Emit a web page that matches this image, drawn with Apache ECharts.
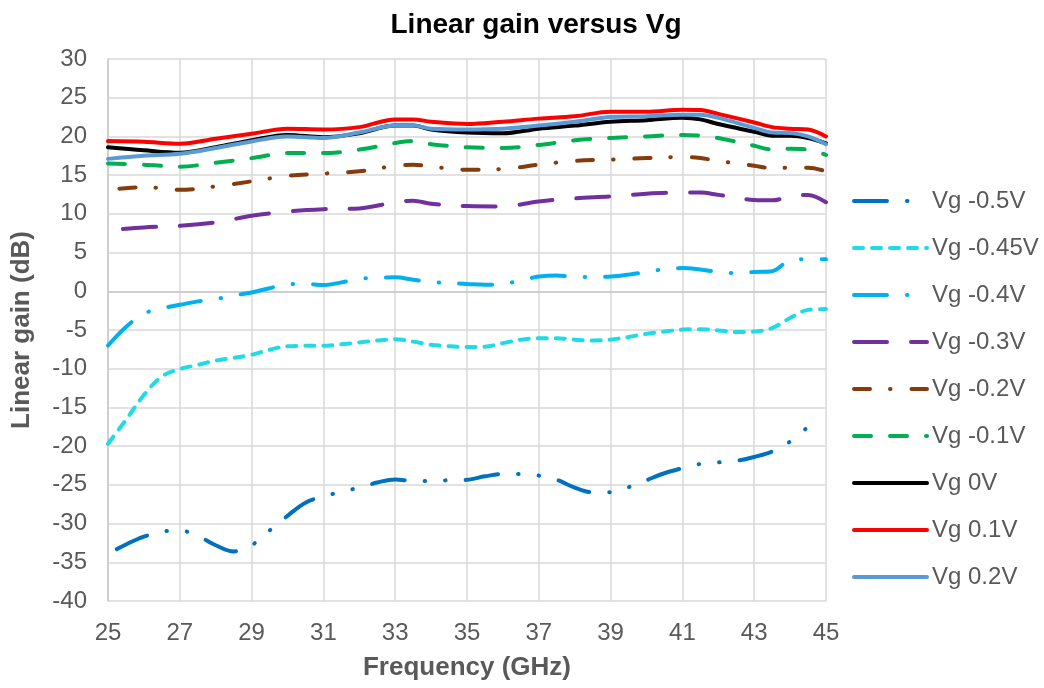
<!DOCTYPE html>
<html>
<head>
<meta charset="utf-8">
<script src="https://cdn.jsdelivr.net/npm/echarts@6/dist/echarts.min.js"></script>
<style>
  html, body { margin: 0; padding: 0; background: #ffffff; }
  #chart { width: 1044px; height: 688px; }
</style>
</head>
<body>
<div id="chart"></div>
<script>
// Frequency grids (GHz)
const freqTop = [25, 26, 27, 28, 29, 30, 31, 32, 33, 33.5, 34, 35, 36, 37, 38, 39, 40, 41, 41.5, 42, 43, 43.5, 44, 44.5, 45];
const freqHalf = [25, 25.5, 26, 26.5, 27, 27.5, 28, 28.5, 29, 29.5, 30, 30.5, 31, 31.5, 32, 32.5, 33, 33.5, 34, 34.5,
                  35, 35.5, 36, 36.5, 37, 37.5, 38, 38.5, 39, 39.5, 40, 40.5, 41, 41.5, 42, 42.5, 43, 43.5, 44, 44.5, 45];

// Linear gain (dB) for each gate voltage
const gainM050 = [-33.9, -32.7, -31.7, -31.05, -30.9, -31.6, -32.8, -33.6, -32.8, -30.9, -29.0, -27.3, -26.5, -25.9, -25.35, -24.7, -24.3, -24.5, -24.5, -24.4,
                  -24.35, -23.9, -23.6, -23.6, -23.8, -24.35, -25.35, -25.95, -25.95, -25.3, -24.4, -23.5, -22.85, -22.3, -22.1, -21.9, -21.4, -20.7, -19.4, -17.5];
const gainM045 = [-19.7, -16.6, -13.4, -11.0, -10.05, -9.5, -8.95, -8.6, -8.2, -7.55, -7.1, -7.05, -7.05, -6.85, -6.6, -6.35, -6.2, -6.5, -6.9, -7.1,
                  -7.2, -7.15, -6.7, -6.25, -6.05, -6.05, -6.25, -6.35, -6.25, -5.9, -5.5, -5.2, -4.95, -4.9, -5.05, -5.25, -5.2, -4.75, -3.45, -2.4, -2.3];
const gainM040 = [-7.0, -4.6, -2.9, -2.2, -1.75, -1.3, -1.0, -0.55, -0.15, 0.4, 0.9, 0.95, 0.8, 1.15, 1.6, 1.75, 1.8, 1.5, 1.2, 1.05,
                  0.95, 0.85, 0.95, 1.4, 1.9, 2.05, 1.85, 1.85, 1.9, 2.15, 2.5, 2.85, 3.0, 2.8, 2.5, 2.35, 2.5, 2.6, 4.0, 4.15, 4.15];
const gainM030 = [7.9, 8.25, 8.45, 8.9, 9.75, 10.3, 10.6, 10.7, 11.5, 11.7, 11.3, 11.0, 10.95, 11.6, 12.0, 12.25, 12.6, 12.75, 12.75, 12.45, 11.8, 11.75, 12.25, 12.45, 11.5];
const gainM020 = [13.1, 13.45, 13.1, 13.55, 14.2, 14.9, 15.2, 15.5, 16.2, 16.35, 16.1, 15.7, 15.8, 16.35, 16.85, 17.0, 17.2, 17.35, 17.2, 16.85, 16.2, 15.9, 15.95, 15.95, 15.5];
const gainM010 = [16.5, 16.35, 16.1, 16.6, 17.2, 17.85, 17.85, 18.3, 19.15, 19.4, 19.0, 18.6, 18.5, 18.9, 19.5, 19.8, 20.0, 20.2, 20.1, 19.8, 18.8, 18.3, 18.4, 18.3, 17.6];
const gainP000 = [18.6, 18.2, 17.9, 18.6, 19.5, 20.2, 19.9, 20.4, 21.4, 21.4, 20.9, 20.5, 20.4, 21.0, 21.4, 21.9, 22.1, 22.4, 22.2, 21.6, 20.6, 20.1, 20.1, 19.8, 19.1];
const gainP010 = [19.4, 19.3, 19.06, 19.7, 20.35, 21.0, 20.9, 21.2, 22.2, 22.2, 21.9, 21.6, 21.9, 22.3, 22.6, 23.2, 23.2, 23.45, 23.4, 22.9, 21.8, 21.2, 21.0, 20.9, 20.0];
const gainP020 = [17.1, 17.5, 17.75, 18.5, 19.35, 20.0, 19.8, 20.5, 21.4, 21.4, 21.0, 20.9, 21.0, 21.4, 21.9, 22.5, 22.6, 22.8, 22.8, 22.4, 21.1, 20.5, 20.45, 20.0, 19.0];

// Series names and axis ticks
const seriesNames = ['Vg -0.5V', 'Vg -0.45V', 'Vg -0.4V', 'Vg -0.3V', 'Vg -0.2V', 'Vg -0.1V', 'Vg 0V', 'Vg 0.1V', 'Vg 0.2V'];
const xTicks = [25, 27, 29, 31, 33, 35, 37, 39, 41, 43, 45];
const yTicks = [-40, -35, -30, -25, -20, -15, -10, -5, 0, 5, 10, 15, 20, 25, 30];

const FONT = '"Liberation Sans", Arial, Helvetica, sans-serif';
const GREY = '#595959';

function pairs(xs, ys) {
  return ys.map((v, i) => [xs[i], v]);
}

// Stroke styles per curve: colour, dash pattern, dash phase
const styles = [
  { color: '#0070c0', type: [33, 20, 0.5, 20, 0.5, 20], offset: 84 },
  { color: '#1fdbe6', type: [9, 9], offset: 0 },
  { color: '#00b0f0', type: [33, 20, 0.5, 20], offset: 0 },
  { color: '#7030a0', type: [33, 24], offset: 42 },
  { color: '#843c0c', type: [16, 20, 0.5, 21], offset: 46 },
  { color: '#00b050', type: [17, 19], offset: 0 },
  { color: '#000000', type: 'solid', offset: 0 },
  { color: '#ff0000', type: 'solid', offset: 0 },
  { color: '#5b9bd5', type: 'solid', offset: 0 }
];

const dataSets = [
  pairs(freqHalf, gainM050),
  pairs(freqHalf, gainM045),
  pairs(freqHalf, gainM040),
  pairs(freqTop, gainM030),
  pairs(freqTop, gainM020),
  pairs(freqTop, gainM010),
  pairs(freqTop, gainP000),
  pairs(freqTop, gainP010),
  pairs(freqTop, gainP020)
];

const series = seriesNames.map((name, i) => ({
  name: name,
  type: 'line',
  data: dataSets[i],
  smooth: 0.35,
  symbol: 'none',
  animation: false,
  color: styles[i].color,
  lineStyle: {
    color: styles[i].color,
    width: 4,
    type: styles[i].type,
    dashOffset: styles[i].offset,
    cap: 'round',
    join: 'round'
  }
}));

// Legend swatches start their dash pattern at the left edge
const legendItems = seriesNames.map(name => ({
  name: name,
  lineStyle: { dashOffset: 0 }
}));

const chart = echarts.init(document.getElementById('chart'), null, { renderer: 'canvas' });
chart.setOption({
  backgroundColor: '#ffffff',
  animation: false,
  title: {
    text: 'Linear gain versus Vg',
    left: 531,
    textAlign: 'center',
    top: 6,
    textStyle: { fontFamily: FONT, fontSize: 28, fontWeight: 'bold', color: '#000000' }
  },
  grid: { left: 108, right: 218, top: 59, bottom: 87, containLabel: false },
  legend: {
    orient: 'vertical',
    left: 852,
    top: 189,
    padding: 0,
    itemWidth: 73,
    itemHeight: 14,
    itemGap: 23,
    data: legendItems,
    textStyle: { fontFamily: FONT, fontSize: 24, color: GREY },
    lineStyle: { width: 4, cap: 'round', dashOffset: 0 },
    itemStyle: { color: 'transparent', borderColor: 'transparent', borderWidth: 0, opacity: 0 }
  },
  xAxis: {
    type: 'value',
    min: 25,
    max: 45,
    interval: 2,
    name: 'Frequency (GHz)',
    nameLocation: 'middle',
    nameGap: 54,
    nameTextStyle: { fontFamily: FONT, fontSize: 26, fontWeight: 'bold', color: GREY },
    axisLine: { show: true, lineStyle: { color: '#c8c8c8', width: 1.5 } },
    axisTick: { show: false },
    axisLabel: {
      fontFamily: FONT, fontSize: 24, color: GREY, margin: 20,
      formatter: v => (xTicks.indexOf(v) >= 0 ? String(v) : '')
    },
    splitLine: { show: true, lineStyle: { color: '#d9d9d9', width: 1.5 } }
  },
  yAxis: {
    type: 'value',
    min: -40,
    max: 30,
    interval: 5,
    name: 'Linear gain (dB)',
    nameLocation: 'middle',
    nameGap: 73,
    nameRotate: 90,
    nameTextStyle: { fontFamily: FONT, fontSize: 26, fontWeight: 'bold', color: GREY },
    axisLine: { show: true, lineStyle: { color: '#c8c8c8', width: 1.5 } },
    axisTick: { show: false },
    axisLabel: {
      fontFamily: FONT, fontSize: 24, color: GREY, margin: 21,
      formatter: v => (yTicks.indexOf(v) >= 0 ? String(v) : '')
    },
    splitLine: { show: true, lineStyle: { color: '#d9d9d9', width: 1.5 } }
  },
  series: series
});
</script>
</body>
</html>
